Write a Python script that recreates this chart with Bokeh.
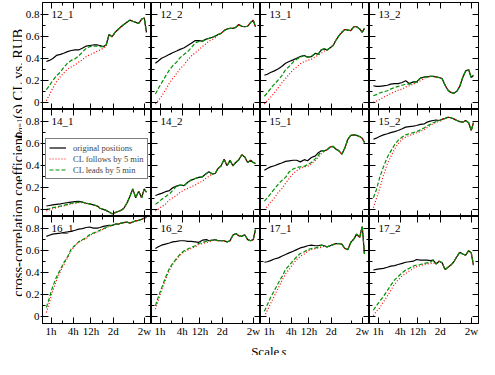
import math
from bokeh.plotting import figure
from bokeh.models import (Range1d, FixedTicker, LinearAxis, LogAxis, Label, GridPlot,
                          Legend, LegendItem, NumeralTickFormatter, CustomLabelingPolicy)
from bokeh.embed import file_html
from bokeh.resources import INLINE

FONT = "Liberation Serif"

# ---------------- data ----------------
scale_hours = [0.75, 0.9, 1.1, 1.4, 1.8, 2.2, 2.8, 3.5, 4.5, 5.6, 7, 9, 11, 14, 18, 21,
               26, 31, 37, 45, 54, 65, 78, 93, 112, 135, 162, 195, 234, 282, 331, 380]

x_ticks = [1, 4, 12, 48, 336]
x_tick_labels = ["1h", "4h", "12h", "2d", "2w"]
x_minor_ticks = [2, 24, 168]
y_ticks = [0, 0.2, 0.4, 0.6, 0.8]
y_minor_ticks = [0.1, 0.3, 0.5, 0.7]

panel_names = [["12_1", "12_2", "13_1", "13_2"],
               ["14_1", "14_2", "15_1", "15_2"],
               ["16_1", "16_2", "17_1", "17_2"]]

series_labels = ["original positions", "CL follows by 5 min", "CL leads by 5 min"]

# original positions (full), CL follows / CL leads (until they merge with the original curve)
original_12_1 = [0.375, 0.385, 0.40, 0.43, 0.44, 0.45, 0.465, 0.475, 0.48, 0.48, 0.495, 0.515, 0.52, 0.525, 0.525, 0.52,
                 0.51, 0.525, 0.62, 0.60, 0.64, 0.665, 0.69, 0.71, 0.73, 0.75, 0.74, 0.73, 0.72, 0.76, 0.77, 0.64]
follows_12_1 = [0.02, 0.07, 0.13, 0.19, 0.24, 0.27, 0.305, 0.325, 0.345, 0.37, 0.39, 0.42, 0.435, 0.45, 0.47, 0.48, 0.495, 0.515]
leads_12_1 = [0.12, 0.155, 0.20, 0.245, 0.28, 0.32, 0.36, 0.385, 0.40, 0.425, 0.46, 0.495, 0.51, 0.515, 0.515, 0.51]

original_12_2 = [0.36, 0.38, 0.405, 0.42, 0.44, 0.455, 0.47, 0.485, 0.50, 0.52, 0.54, 0.565, 0.565, 0.56, 0.58, 0.585,
                 0.595, 0.605, 0.62, 0.63, 0.655, 0.67, 0.675, 0.675, 0.685, 0.71, 0.695, 0.69, 0.695, 0.73, 0.75, 0.69]
follows_12_2 = [-0.01, 0.02, 0.06, 0.115, 0.18, 0.22, 0.265, 0.31, 0.345, 0.39, 0.425, 0.455, 0.48, 0.51, 0.54, 0.56, 0.575, 0.59, 0.615]
leads_12_2 = [0.08, 0.13, 0.18, 0.24, 0.30, 0.335, 0.37, 0.41, 0.44, 0.465, 0.50, 0.545, 0.555]

original_13_1 = [0.25, 0.26, 0.275, 0.29, 0.31, 0.33, 0.36, 0.375, 0.39, 0.405, 0.42, 0.43, 0.415, 0.42, 0.45, 0.44,
                 0.48, 0.49, 0.48, 0.50, 0.52, 0.57, 0.61, 0.64, 0.665, 0.66, 0.655, 0.69, 0.69, 0.67, 0.64, 0.675]
follows_13_1 = [-0.01, 0.02, 0.05, 0.09, 0.14, 0.18, 0.22, 0.26, 0.30, 0.325, 0.355, 0.375, 0.385, 0.395, 0.42, 0.43, 0.45, 0.47, 0.48]
leads_13_1 = [0.06, 0.09, 0.13, 0.17, 0.21, 0.245, 0.30, 0.33, 0.37, 0.395, 0.415, 0.43]

original_13_2 = [0.155, 0.15, 0.15, 0.155, 0.16, 0.17, 0.175, 0.175, 0.185, 0.20, 0.175, 0.19, 0.19, 0.225, 0.235, 0.235,
                 0.24, 0.24, 0.235, 0.23, 0.22, 0.16, 0.115, 0.095, 0.088, 0.105, 0.15, 0.23, 0.29, 0.30, 0.23, 0.25]
follows_13_2 = [0.005, 0.015, 0.03, 0.05, 0.07, 0.085, 0.10, 0.115, 0.125, 0.145, 0.155, 0.17, 0.18, 0.20, 0.225]
leads_13_2 = [0.065, 0.075, 0.09, 0.10, 0.11, 0.125, 0.14, 0.15, 0.16, 0.17, 0.17, 0.18]

original_14_1 = [0.035, 0.04, 0.045, 0.05, 0.055, 0.06, 0.065, 0.07, 0.075, 0.077, 0.07, 0.06, 0.055, 0.045, 0.035, 0.015,
                 0.005, -0.005, -0.02, -0.035, -0.025, -0.015, -0.005, 0.015, 0.06, 0.12, 0.19, 0.11, 0.17, 0.11, 0.19, 0.16]
follows_14_1 = [-0.01, 0.0, 0.01, 0.02, 0.03, 0.035, 0.045, 0.055, 0.06, 0.065, 0.065]
leads_14_1 = [0.005, 0.01, 0.02, 0.025, 0.035, 0.04, 0.05, 0.06, 0.065, 0.07]

original_14_2 = [0.13, 0.14, 0.15, 0.165, 0.175, 0.20, 0.215, 0.225, 0.22, 0.25, 0.27, 0.285, 0.295, 0.30, 0.33, 0.345,
                 0.325, 0.33, 0.375, 0.40, 0.46, 0.40, 0.45, 0.40, 0.43, 0.455, 0.50, 0.48, 0.43, 0.45, 0.43, 0.42]
follows_14_2 = [-0.01, 0.005, 0.03, 0.05, 0.09, 0.11, 0.13, 0.16, 0.18, 0.195, 0.21, 0.225, 0.245, 0.26, 0.29, 0.305]
leads_14_2 = [0.05, 0.07, 0.095, 0.12, 0.145, 0.175]

original_15_1 = [0.36, 0.375, 0.39, 0.40, 0.415, 0.425, 0.44, 0.445, 0.45, 0.45, 0.435, 0.455, 0.445, 0.475, 0.49, 0.515,
                 0.535, 0.535, 0.545, 0.57, 0.575, 0.55, 0.535, 0.505, 0.56, 0.64, 0.675, 0.68, 0.675, 0.665, 0.65, 0.61]
follows_15_1 = [0.0, 0.03, 0.07, 0.11, 0.16, 0.19, 0.24, 0.285, 0.33, 0.355, 0.375, 0.39, 0.395, 0.415, 0.45, 0.475, 0.51, 0.53]
leads_15_1 = [0.08, 0.11, 0.145, 0.19, 0.235, 0.265, 0.295, 0.345, 0.37, 0.385, 0.39, 0.395, 0.41, 0.43, 0.465, 0.49]

original_15_2 = [0.64, 0.65, 0.665, 0.68, 0.69, 0.70, 0.71, 0.72, 0.735, 0.75, 0.755, 0.76, 0.765, 0.775, 0.78, 0.795,
                 0.805, 0.81, 0.815, 0.81, 0.82, 0.83, 0.84, 0.835, 0.825, 0.81, 0.80, 0.795, 0.81, 0.79, 0.72, 0.79]
follows_15_2 = [0.02, 0.10, 0.19, 0.31, 0.42, 0.48, 0.55, 0.60, 0.64, 0.66, 0.675, 0.685, 0.70, 0.71, 0.73, 0.745, 0.765, 0.78, 0.795, 0.80]
leads_15_2 = [0.11, 0.18, 0.29, 0.39, 0.48, 0.53, 0.59, 0.63, 0.66, 0.68, 0.69, 0.70, 0.71, 0.725, 0.745, 0.76, 0.775, 0.79, 0.80]

original_16_1 = [0.73, 0.74, 0.75, 0.755, 0.76, 0.765, 0.77, 0.775, 0.785, 0.795, 0.80, 0.81, 0.815, 0.805, 0.805, 0.81,
                 0.82, 0.825, 0.83, 0.83, 0.84, 0.84, 0.85, 0.855, 0.86, 0.85, 0.86, 0.87, 0.875, 0.885, 0.895, 0.905]
follows_16_1 = [0.04, 0.13, 0.23, 0.33, 0.415, 0.47, 0.535, 0.60, 0.645, 0.68, 0.695, 0.71, 0.74, 0.755, 0.77, 0.78, 0.795, 0.805, 0.82, 0.825]
leads_16_1 = [0.085, 0.17, 0.27, 0.36, 0.43, 0.49, 0.545, 0.615, 0.65, 0.68, 0.70, 0.72, 0.745, 0.76, 0.775, 0.785, 0.80, 0.81, 0.825, 0.83]

original_16_2 = [0.62, 0.635, 0.65, 0.66, 0.67, 0.68, 0.685, 0.69, 0.69, 0.685, 0.685, 0.68, 0.675, 0.695, 0.70, 0.69,
                 0.695, 0.70, 0.69, 0.69, 0.69, 0.68, 0.69, 0.74, 0.755, 0.735, 0.73, 0.745, 0.70, 0.69, 0.70, 0.79]
follows_16_2 = [0.07, 0.15, 0.24, 0.335, 0.425, 0.475, 0.52, 0.56, 0.59, 0.605, 0.62, 0.635, 0.655, 0.665, 0.675, 0.68, 0.69]
leads_16_2 = [0.10, 0.18, 0.26, 0.355, 0.44, 0.485, 0.53, 0.57, 0.60, 0.615, 0.63, 0.645, 0.665, 0.675, 0.685]

original_17_1 = [0.495, 0.50, 0.51, 0.525, 0.535, 0.55, 0.565, 0.58, 0.595, 0.61, 0.625, 0.635, 0.645, 0.65, 0.645, 0.645,
                 0.65, 0.645, 0.635, 0.645, 0.655, 0.665, 0.665, 0.66, 0.62, 0.61, 0.675, 0.705, 0.75, 0.72, 0.82, 0.57]
follows_17_1 = [0.0, 0.06, 0.12, 0.19, 0.265, 0.325, 0.39, 0.43, 0.48, 0.52, 0.55, 0.57, 0.595, 0.61, 0.62, 0.625, 0.63, 0.64]
leads_17_1 = [0.05, 0.11, 0.175, 0.24, 0.31, 0.36, 0.43, 0.465, 0.51, 0.545, 0.575, 0.59, 0.61, 0.62, 0.625, 0.63]

original_17_2 = [0.425, 0.43, 0.435, 0.44, 0.45, 0.46, 0.465, 0.475, 0.485, 0.495, 0.50, 0.505, 0.52, 0.515, 0.515, 0.515,
                 0.51, 0.515, 0.48, 0.505, 0.49, 0.43, 0.45, 0.47, 0.50, 0.545, 0.585, 0.57, 0.56, 0.60, 0.58, 0.47]
follows_17_2 = [0.01, 0.05, 0.08, 0.135, 0.19, 0.24, 0.295, 0.335, 0.37, 0.395, 0.415, 0.44, 0.455, 0.465, 0.475, 0.48, 0.485, 0.49]
leads_17_2 = [0.06, 0.10, 0.14, 0.185, 0.24, 0.285, 0.335, 0.365, 0.40, 0.425, 0.44, 0.46, 0.47, 0.475, 0.485, 0.49, 0.495]

ORIGINAL = {"12_1": original_12_1, "12_2": original_12_2, "13_1": original_13_1, "13_2": original_13_2,
            "14_1": original_14_1, "14_2": original_14_2, "15_1": original_15_1, "15_2": original_15_2,
            "16_1": original_16_1, "16_2": original_16_2, "17_1": original_17_1, "17_2": original_17_2}
FOLLOWS = {"12_1": follows_12_1, "12_2": follows_12_2, "13_1": follows_13_1, "13_2": follows_13_2,
           "14_1": follows_14_1, "14_2": follows_14_2, "15_1": follows_15_1, "15_2": follows_15_2,
           "16_1": follows_16_1, "16_2": follows_16_2, "17_1": follows_17_1, "17_2": follows_17_2}
LEADS = {"12_1": leads_12_1, "12_2": leads_12_2, "13_1": leads_13_1, "13_2": leads_13_2,
         "14_1": leads_14_1, "14_2": leads_14_2, "15_1": leads_15_1, "15_2": leads_15_2,
         "16_1": leads_16_1, "16_2": leads_16_2, "17_1": leads_17_1, "17_2": leads_17_2}

# ---------------- layout constants (whole page fits 479 x 359) ----------------
FW, FH = 109, 107
LB = 19          # left border of first column (tick labels)
TB = 2           # top border of first row
BB = 15          # bottom border of last row (tick labels)
YLAB_W = 22
XLAB_H = 16
X_MIN, X_MAX = 0.589, 520.0
Y_MIN, Y_MAX = -0.06, 0.91
TICK_FONT = "11px"

NO_LABELS = CustomLabelingPolicy(code="return []")


def complete(part, orig):
    return part + orig[len(part):]


def style_axis(ax, ticks, minor, show_labels, tick_out):
    ax.ticker = FixedTicker(ticks=ticks, minor_ticks=minor)
    ax.axis_line_color = "black"
    ax.axis_line_width = 1
    ax.major_tick_line_color = "black"
    ax.minor_tick_line_color = "black"
    ax.major_tick_in = 6
    ax.major_tick_out = tick_out
    ax.minor_tick_in = 3
    ax.minor_tick_out = 0
    ax.axis_label = None
    if show_labels:
        ax.major_label_text_font = FONT
        ax.major_label_text_font_size = TICK_FONT
        ax.major_label_text_color = "black"
        ax.major_label_standoff = 1
    else:
        ax.major_label_text_font_size = "0px"
        ax.major_label_standoff = 0
        ax.major_label_policy = NO_LABELS


def make_panel(name, r, c):
    p = figure(x_axis_type="log", x_range=Range1d(X_MIN, X_MAX), y_range=Range1d(Y_MIN, Y_MAX),
               frame_width=FW, frame_height=FH, output_backend="svg", toolbar_location=None,
               min_border_left=LB if c == 0 else 0, min_border_right=1 if c == 3 else 0,
               min_border_top=TB if r == 0 else 0, min_border_bottom=BB if r == 2 else 0,
               background_fill_color="white", border_fill_color="white",
               outline_line_color="black", outline_line_width=1)
    p.grid.visible = False

    xb = p.xaxis[0]
    style_axis(xb, x_ticks, x_minor_ticks, r == 2, 0)
    xb.major_label_overrides = {t: lab for t, lab in zip(x_ticks, x_tick_labels)}
    yl = p.yaxis[0]
    style_axis(yl, y_ticks, y_minor_ticks, c == 0, 2 if c == 0 else 0)
    yl.formatter = NumeralTickFormatter(format="0.[0]")

    xa = LogAxis()
    style_axis(xa, x_ticks, x_minor_ticks, False, 0)
    p.add_layout(xa, "above")
    yr = LinearAxis()
    style_axis(yr, y_ticks, y_minor_ticks, False, 0)
    p.add_layout(yr, "right")

    orig = ORIGINAL[name]
    foll = complete(FOLLOWS[name], orig)
    lead = complete(LEADS[name], orig)
    r0 = p.line(scale_hours, orig, line_color="black", line_width=1.2)
    r1 = p.line(scale_hours, foll, line_color="#ff0000", line_width=1.2, line_dash="1 2")
    r2 = p.line(scale_hours, lead, line_color="#009000", line_width=1.2, line_dash="4 2")

    p.add_layout(Label(x=9, y=FH - 5, x_units="screen", y_units="screen", text=name,
                       text_font=FONT, text_font_size="11px", text_color="black",
                       text_baseline="top", text_align="left"))

    if name == "14_1":
        leg = Legend(items=[LegendItem(label=series_labels[0], renderers=[r0]),
                            LegendItem(label=series_labels[1], renderers=[r1]),
                            LegendItem(label=series_labels[2], renderers=[r2])],
                     location=(3, 37), label_text_font=FONT, label_text_font_size="8.5px",
                     border_line_color="black", border_line_width=1, background_fill_alpha=1.0,
                     glyph_width=17, glyph_height=11, label_height=11, label_standoff=7,
                     spacing=0, padding=3, margin=0)
        p.add_layout(leg)
    return p


figs = [[make_panel(panel_names[r][c], r, c) for c in range(4)] for r in range(3)]

GRID_H = TB + 3 * FH + BB
GRID_W = LB + 4 * FW + 1

# y-axis title (rotated), built from pieces for italic letters and the subscript
ylab = figure(width=YLAB_W, height=GRID_H, x_range=Range1d(0, YLAB_W), y_range=Range1d(0, GRID_H),
              min_border=0, toolbar_location=None, output_backend="svg",
              x_axis_location=None, y_axis_location=None, outline_line_color=None,
              background_fill_color="white", border_fill_color="white")
ylab.grid.visible = False
base_x = 17
pieces = [("cross-correlation coefficient", "normal", 14.5, 0, 166.8),
          ("ρ", "italic", 14.5, 0, 7.3),
          ("q=1", "normal", 8.5, 2.5, 13.8),
          ("(", "normal", 14.5, 0, 4.9),
          ("s", "italic", 14.5, 0, 5.6),
          (") CL vs. RUB", "normal", 14.5, 0, 80.5)]
total_len = sum(pc[4] for pc in pieces)
center_t = TB + (183 - 1) * (3 * FH) / 345.0
pos = GRID_H - center_t - total_len / 2
for txt, style, size, shift, adv in pieces:
    ylab.add_layout(Label(x=base_x + shift, y=pos, text=txt, angle=math.pi / 2,
                          text_font=FONT, text_font_style=style, text_font_size=f"{size}px",
                          text_color="black", text_baseline="alphabetic", text_align="left"))
    pos += adv

# x-axis title
xlab = figure(width=GRID_W, height=XLAB_H, x_range=Range1d(0, GRID_W), y_range=Range1d(0, XLAB_H),
              min_border=0, toolbar_location=None, output_backend="svg",
              x_axis_location=None, y_axis_location=None, outline_line_color=None,
              background_fill_color="white", border_fill_color="white")
xlab.grid.visible = False
cx = LB + 2 * FW
xlab.add_layout(Label(x=cx - 18.3, y=4, text="Scale", text_font=FONT, text_font_size="13px",
                      text_color="black", text_baseline="alphabetic", text_align="left"))
xlab.add_layout(Label(x=cx + 13.2, y=4, text="s", text_font=FONT, text_font_style="italic",
                      text_font_size="13px", text_color="black", text_baseline="alphabetic",
                      text_align="left"))

children = [(ylab, 0, 0, 3, 1)]
for r in range(3):
    for c in range(4):
        children.append((figs[r][c], r, c + 1))
children.append((xlab, 3, 1, 1, 4))
layout = GridPlot(children=children, toolbar_location=None)

with open("out.html", "w") as f:
    f.write(file_html(layout, INLINE))
